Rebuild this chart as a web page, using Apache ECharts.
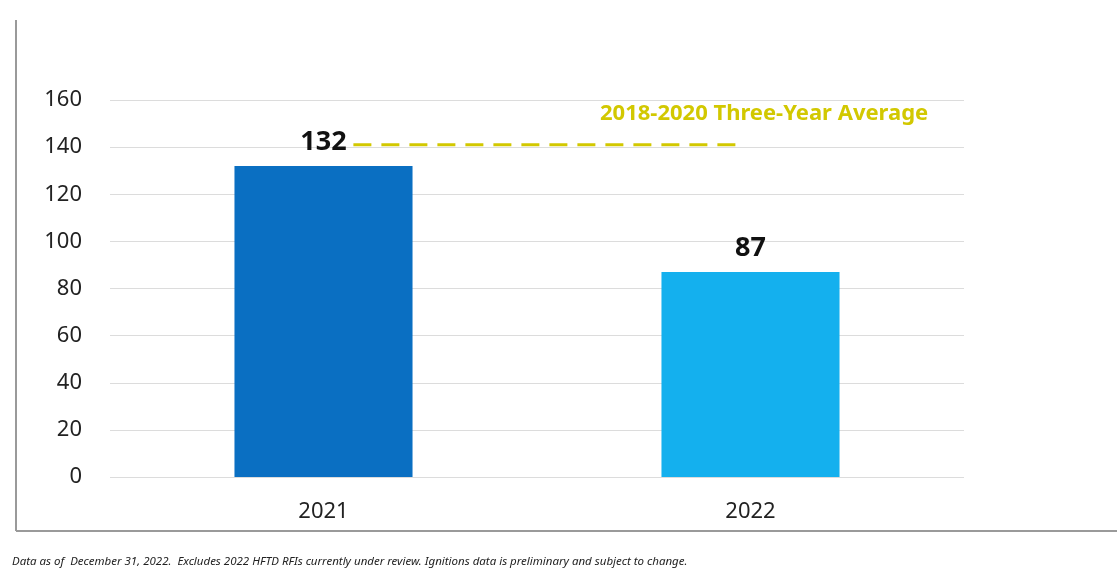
<!DOCTYPE html>
<html>
<head>
<meta charset="utf-8">
<script src="https://cdn.jsdelivr.net/npm/echarts@6/dist/echarts.min.js"></script>
<style>
  html, body { margin: 0; padding: 0; background: #fff; }
  #main { width: 1117px; height: 573px; }
</style>
</head>
<body>
<div id="main"></div>
<script>
var years = ['2021', '2022'];
var ignitions = [132, 87];
var barColors = ['#0a6fc2', '#14b0ee'];
var yTicks = [0, 20, 40, 60, 80, 100, 120, 140, 160];
var avgValue = 141;
var avgLabel = '2018-2020 Three-Year Average';
// where the dashed average line starts and stops, in category units (0..2)
var avgSpan = [0.57, 1.475];
var footnote = 'Data as of  December 31, 2022.  Excludes 2022 HFTD RFIs currently under review. Ignitions data is preliminary and subject to change.';

var chart = echarts.init(document.getElementById('main'));

var option = {
    animation: false,
    grid: { left: 110, right: 153, top: 100, bottom: 96 },
    xAxis: [{
        type: 'category',
        data: years,
        axisLine: { show: false },
        axisTick: { show: false },
        axisLabel: { fontSize: 22, color: '#222', margin: 24, fontFamily: 'Noto Sans' }
    }, {
        type: 'value',
        min: 0,
        max: 2,
        show: false
    }],
    yAxis: {
        type: 'value',
        min: yTicks[0],
        max: yTicks[yTicks.length - 1],
        interval: 20,
        axisLine: { show: false },
        axisTick: { show: false },
        splitLine: { lineStyle: { color: '#dcdcdc', width: 1 } },
        axisLabel: { fontSize: 22, color: '#222', margin: 28, fontFamily: 'Noto Sans' }
    },
    series: [{
        type: 'bar',
        barWidth: '41.7%',
        data: ignitions.map(function (v, i) {
            return { value: v, itemStyle: { color: barColors[i] } };
        }),
        label: {
            show: true,
            position: 'top',
            distance: 10,
            fontSize: 27,
            fontWeight: 'bold',
            color: '#111',
            fontFamily: 'Noto Sans'
        }
    }, {
        type: 'line',
        xAxisIndex: 1,
        symbol: 'none',
        data: [[avgSpan[0], avgValue], [avgSpan[1], avgValue]],
        lineStyle: { color: '#d2c800', width: 3, type: [18, 10] }
    }],
    graphic: [{
        type: 'text',
        left: 600,
        top: 103,
        style: {
            text: avgLabel,
            fontSize: 22,
            fontWeight: 'bold',
            fill: '#d2c800',
            fontFamily: 'Noto Sans'
        }
    }, {
        type: 'line',
        shape: { x1: 16, y1: 20, x2: 16, y2: 531 },
        style: { stroke: '#9a9a9a', lineWidth: 2 }
    }, {
        type: 'line',
        shape: { x1: 16, y1: 531, x2: 1117, y2: 531 },
        style: { stroke: '#9a9a9a', lineWidth: 2 }
    }, {
        type: 'text',
        left: 12,
        top: 556,
        style: {
            text: footnote,
            fontSize: 11.5,
            fontStyle: 'italic',
            fill: '#222',
            fontFamily: 'Noto Sans'
        }
    }]
};

chart.setOption(option);
</script>
</body>
</html>
